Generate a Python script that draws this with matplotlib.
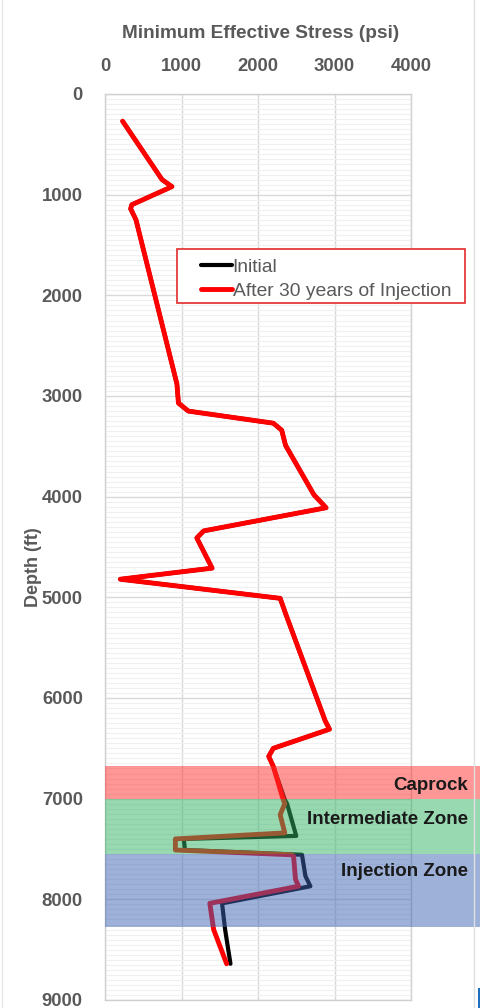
import numpy as np
import matplotlib
matplotlib.use("Agg")
import matplotlib.pyplot as plt
from matplotlib.patches import Rectangle
from matplotlib.ticker import MultipleLocator

plt.rcParams["font.family"] = ["Liberation Sans", "DejaVu Sans"]

# Stress profile above the caprock is the same before and after injection
DEPTH_SHALLOW = [270, 850, 920, 1100, 1140, 1250, 2880, 3070, 3150, 3270, 3340,
                 3490, 3980, 4110, 4340, 4410, 4710, 4820, 5010, 5160, 6230,
                 6310, 6500, 6580, 6680]
STRESS_SHALLOW = [230, 745, 875, 350, 335, 405, 940, 960, 1090, 2200, 2310,
                  2360, 2730, 2890, 1290, 1200, 1400, 200, 2290, 2360, 2880,
                  2935, 2200, 2140, 2200]

# Caprock / intermediate / injection zones
DEPTH_INITIAL_DEEP = [7010, 7050, 7370, 7400, 7510, 7557, 7770, 7870, 8040,
                      8300, 8640]
STRESS_INITIAL_DEEP = [2350, 2380, 2500, 1030, 1045, 2575, 2620, 2685, 1530,
                       1570, 1640]

DEPTH_AFTER_DEEP = [7010, 7050, 7160, 7340, 7400, 7510, 7557, 7570, 7800,
                    7870, 8040, 8300, 8640]
STRESS_AFTER_DEEP = [2330, 2350, 2290, 2350, 920, 920, 2430, 2465, 2490,
                     2530, 1370, 1420, 1590]

ZONE_NAMES = ["Caprock", "Intermediate Zone", "Injection Zone"]
ZONE_TOP = [6680, 7000, 7550]
ZONE_BASE = [7000, 7550, 8270]
ZONE_COLORS = ["#ff3030", "#32b464", "#3c64b4"]

depth_initial = np.array(DEPTH_SHALLOW + DEPTH_INITIAL_DEEP)
stress_initial = np.array(STRESS_SHALLOW + STRESS_INITIAL_DEEP)
depth_after = np.array(DEPTH_SHALLOW + DEPTH_AFTER_DEEP)
stress_after = np.array(STRESS_SHALLOW + STRESS_AFTER_DEEP)

W, H = 481, 1008
fig = plt.figure(figsize=(W / 100, H / 100), dpi=100)
ax = fig.add_axes([105 / W, 1 - 1000 / H, 306 / W, 906 / H])

grey = "#595959"
ax.plot(stress_initial, depth_initial, color="black", lw=3.0,
        solid_joinstyle="round", solid_capstyle="round", zorder=3,
        label="Initial")
ax.plot(stress_after, depth_after, color="#ff0000", lw=3.5,
        solid_joinstyle="round", solid_capstyle="round", zorder=4,
        label="After 30 years of Injection")

# zone bands run past the right edge of the plot
for name, top, base, col in zip(ZONE_NAMES, ZONE_TOP, ZONE_BASE, ZONE_COLORS):
    ax.add_patch(Rectangle((0, top), 4910, base - top, facecolor=col,
                           edgecolor="none", alpha=0.5, zorder=5,
                           clip_on=False))

label_depth = [6870, 7210, 7720]
for name, d in zip(ZONE_NAMES, label_depth):
    ax.text(4740, d, name, ha="right", va="center", fontsize=13.5,
            fontweight="bold", color="#1a1a1a", zorder=6, clip_on=False)

ax.set_xlim(0, 4000)
ax.set_ylim(9000, 0)
ax.xaxis.tick_top()
ax.xaxis.set_major_locator(MultipleLocator(1000))
ax.yaxis.set_major_locator(MultipleLocator(1000))
ax.yaxis.set_minor_locator(MultipleLocator(50))
ax.tick_params(which="both", length=0)
ax.tick_params(axis="x", pad=14, labelsize=13.3, labelcolor=grey)
ax.tick_params(axis="y", pad=16, labelsize=13.3, labelcolor=grey)
for lab in ax.get_xticklabels() + ax.get_yticklabels():
    lab.set_fontweight("bold")

ax.grid(True, which="major", color="#d9d9d9", lw=1.0, zorder=0)
ax.grid(True, which="minor", axis="y", color="#f0f0f0", lw=0.8, zorder=0)
ax.set_axisbelow(True)
for sp in ax.spines.values():
    sp.set_color("#d0d0d0")
    sp.set_linewidth(1.0)

fig.text(261 / W, 1 - 33 / H, "Minimum Effective Stress (psi)", ha="center",
         va="center", fontsize=13.7, fontweight="bold", color=grey)
fig.text(33 / W, 1 - 567 / H, "Depth (ft)", ha="center", va="center",
         rotation=90, fontsize=13, fontweight="bold", color=grey)

# legend box sits partly outside the plot area
ax.add_patch(Rectangle((177 / W, 1 - 303 / H), 288 / W, 54 / H,
                       transform=fig.transFigure, facecolor="white",
                       edgecolor="#e32b2b", lw=1.2, zorder=8, clip_on=False))
leg = ax.legend(loc="upper left", bbox_to_anchor=(191 / W, 1 - 249 / H),
                bbox_transform=fig.transFigure, frameon=False, fontsize=13.9,
                handlelength=1.6, handletextpad=0.05, borderpad=0,
                labelspacing=0.32)
for t in leg.get_texts():
    t.set_color(grey)
leg.set_zorder(9)

# thin page frame at the edges
fig.add_artist(plt.Line2D([2 / W, 2 / W], [0, 1], color="#e6e6e6", lw=1.0))
fig.add_artist(plt.Line2D([474 / W, 474 / W], [0, 1], color="#e0e0e0", lw=1.0))
fig.add_artist(Rectangle((478 / W, 0), 3 / W, 20 / H,
                         transform=fig.transFigure, facecolor="#1f6fbf",
                         edgecolor="none"))

fig.savefig("out.png", dpi=100)
